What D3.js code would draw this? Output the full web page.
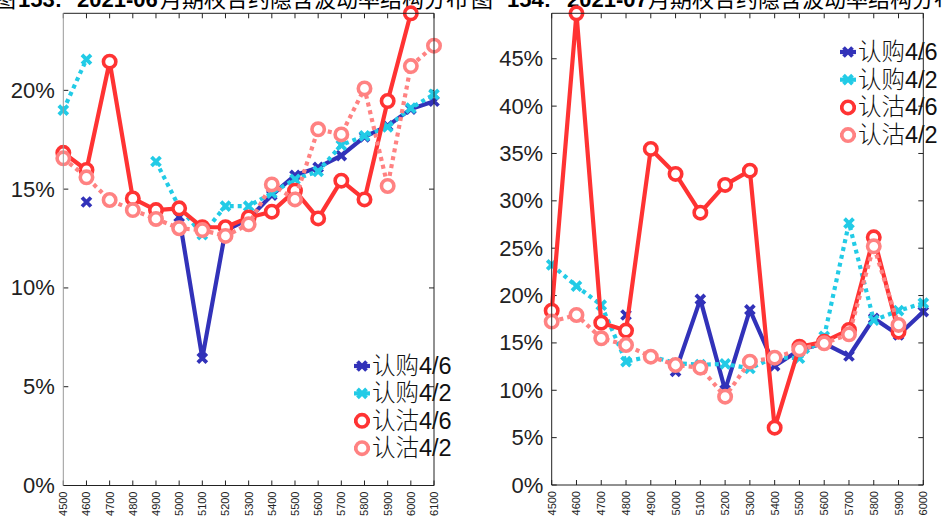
<!DOCTYPE html>
<html><head><meta charset="utf-8">
<script src="https://cdn.jsdelivr.net/npm/d3@7"></script>
<style>
html,body{margin:0;padding:0;background:#fff;overflow:hidden;}
text{font-family:"Liberation Sans",Arial,"Noto Sans CJK SC",sans-serif;}
</style></head>
<body>
<svg id="c" width="943" height="519"></svg>
<script>
// ---------- DATA ----------
const strikesJun = [4500,4600,4700,4800,4900,5000,5100,5200,5300,5400,5500,5600,5700,5800,5900,6000,6100];
const callJun46 = [null,14.35,null,null,null,13.6,6.45,12.9,13.5,14.7,15.7,16.1,16.7,17.65,18.2,19.05,19.45];
const callJun42 = [19.0,21.57,null,null,16.4,14.1,12.7,14.14,14.14,14.8,15.5,15.9,17.23,17.7,18.15,19.1,19.8];
const putJun46  = [16.84,15.97,21.45,14.53,13.94,14.03,13.07,13.07,13.57,13.86,14.92,13.52,15.43,14.48,19.46,23.9,null];
const putJun42  = [16.56,15.6,14.45,13.94,13.49,13.02,12.93,12.63,13.22,15.24,14.48,18.03,17.77,20.1,15.16,21.23,22.26];

const strikesJul = [4500,4600,4700,4800,4900,5000,5100,5200,5300,5400,5500,5600,5700,5800,5900,6000];
const callJul46 = [null,null,null,17.95,null,12.0,19.6,10.03,18.48,12.57,14.26,14.96,13.62,17.6,15.84,18.3];
const callJul42 = [23.23,21.0,19.0,13.02,13.6,12.85,12.7,12.78,12.3,13.5,13.38,15.7,27.65,17.4,18.4,19.2];
const putJul46  = [18.4,49.8,17.14,16.3,35.48,32.84,28.75,31.68,33.19,6.05,14.6,15.13,16.37,26.15,16.19,null];
const putJul42  = [17.25,17.95,15.49,14.78,13.55,12.67,12.39,9.33,13.02,13.44,14.33,14.96,15.91,25.2,16.9,null];

const seriesNames = ["认购4/6","认购4/2","认沽4/6","认沽4/2"];
const yTicksJun = [0,5,10,15,20];
const yTicksJul = [0,5,10,15,20,25,30,35,40,45];
const titleJun = ["图","153:","2021-06","月期权合约隐含波动率结构分布"];
const titleJul = ["图","154:","2021-07","月期权合约隐含波动率结构分布"];

// ---------- STYLE ----------
const styles = [
  {color:"#3232b9", dash:null, marker:"x"},
  {color:"#22cbe6", dash:"4,4", marker:"x"},
  {color:"#ff3333", dash:null, marker:"o"},
  {color:"#ff8282", dash:"4,4", marker:"o"}
];

const svg = d3.select("#c");

function drawTitle(parts, xs) {
  const t = svg.append("text").attr("y", 7).attr("font-size", 22).attr("fill", "#000");
  parts.forEach((p, i) => {
    t.append("tspan").attr("x", xs[i]).text(p)
      .attr("font-weight", (i === 1 || i === 2) ? "bold" : "normal")
      .attr("font-family", i === 3 || i === 0 ? "'Noto Sans CJK SC',sans-serif" : "'Liberation Sans',Arial,sans-serif");
  });
}
drawTitle(titleJun, [-6, 18, 77, 160]);
drawTitle(titleJul, [471, 507, 567, 648]);

function marker(g, m, x, y, color) {
  if (m === "x") {
    const s = 4.5;
    g.append("path")
      .attr("d", `M${x-s},${y-s}L${x+s},${y+s}M${x-s},${y+s}L${x+s},${y-s}`)
      .attr("stroke", color).attr("stroke-width", 3.8).attr("fill", "none");
  } else {
    g.append("circle").attr("cx", x).attr("cy", y).attr("r", 6.2)
      .attr("fill", "#fff").attr("stroke", color).attr("stroke-width", 3.6);
  }
}

function panel(cfg) {
  const {strikes, data, yTicks, yMax, left, right, top, bottom, leftSpine, legend} = cfg;
  const g = svg.append("g");
  const x = d3.scalePoint().domain(strikes).range([left, right]);
  const y = d3.scaleLinear().domain([0, yMax]).range([bottom, top]);

  yTicks.forEach(v => {
    g.append("text").attr("x", left - 8.5).attr("y", y(v)).attr("text-anchor", "end")
      .attr("dominant-baseline", "central").attr("font-size", 22).attr("fill", "#222")
      .text(v + "%");
    g.append("line").attr("x1", left).attr("x2", left + 5).attr("y1", y(v)).attr("y2", y(v)).attr("stroke", "#222");
    g.append("line").attr("x1", right).attr("x2", right - 5).attr("y1", y(v)).attr("y2", y(v)).attr("stroke", "#222");
  });
  strikes.forEach(s => {
    g.append("line").attr("x1", x(s)).attr("x2", x(s)).attr("y1", bottom).attr("y2", bottom - 5).attr("stroke", "#222");
    g.append("line").attr("x1", x(s)).attr("x2", x(s)).attr("y1", top).attr("y2", top + 5).attr("stroke", "#222");
    g.append("text").attr("transform", `translate(${x(s)},${bottom + 6}) rotate(-90)`)
      .attr("text-anchor", "end").attr("dominant-baseline", "central")
      .attr("font-size", 11).attr("fill", "#222").text(s);
  });

  data.forEach((arr, si) => {
    const st = styles[si];
    const pts = strikes.map((s, i) => ({s, v: arr[i]}));
    const line = d3.line().defined(d => d.v != null).x(d => x(d.s)).y(d => y(d.v));
    const sg = g.append("g");
    sg.append("path").attr("d", line(pts)).attr("fill", "none").attr("stroke", st.color)
      .attr("stroke-width", 4.2).attr("stroke-linejoin", "round")
      .attr("stroke-dasharray", st.dash);
    pts.filter(d => d.v != null).forEach(d => marker(sg, st.marker, x(d.s), y(d.v), st.color));
  });

  seriesNames.forEach((n, i) => {
    const st = styles[i];
    const ly = legend.y + i * legend.dy;
    const lg = g.append("g");
    lg.append("line").attr("x1", legend.x - 8).attr("x2", legend.x + 8).attr("y1", ly).attr("y2", ly)
      .attr("stroke", st.color).attr("stroke-width", 4.2);
    marker(lg, st.marker, legend.x, ly, st.color);
    lg.append("text").attr("x", legend.x + 10).attr("y", ly).attr("dominant-baseline", "central")
      .attr("font-size", 23.5).attr("fill", "#111")
      .attr("font-family", "'Noto Sans CJK SC','Liberation Sans',sans-serif").attr("font-weight", 300)
      .text(n);
  });

  g.append("line").attr("x1", left).attr("x2", right).attr("y1", top).attr("y2", top).attr("stroke", "#222");
  g.append("line").attr("x1", left).attr("x2", right).attr("y1", bottom).attr("y2", bottom).attr("stroke", "#222");
  g.append("line").attr("x1", right).attr("x2", right).attr("y1", top).attr("y2", bottom).attr("stroke", "#222");
  g.append("line").attr("x1", left).attr("x2", left).attr("y1", top).attr("y2", bottom).attr("stroke", leftSpine);
}

panel({strikes: strikesJun, data: [callJun46, callJun42, putJun46, putJun42], yTicks: yTicksJun,
  yMax: 23.9, left: 63.3, right: 434, top: 13.3, bottom: 485.5, leftSpine: "#999",
  legend: {x: 362, y: 366, dy: 27.4}});
panel({strikes: strikesJul, data: [callJul46, callJul42, putJul46, putJul42], yTicks: yTicksJul,
  yMax: 49.8, left: 551.7, right: 923.3, top: 13.3, bottom: 485, leftSpine: "#222",
  legend: {x: 848, y: 52, dy: 27.7}});
</script>
</body></html>
